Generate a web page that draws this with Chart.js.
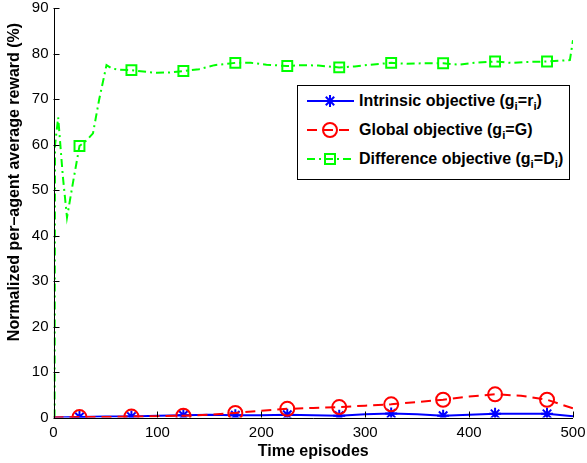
<!DOCTYPE html>
<html><head><meta charset="utf-8">
<script src="https://cdn.jsdelivr.net/npm/chart.js@4"></script>
<style>
html,body{margin:0;padding:0;background:#fff;}
#wrap{position:relative;width:587px;height:463px;overflow:hidden;}
#c{position:absolute;left:0;top:0;}
#legend{position:absolute;left:297px;top:85px;width:273px;height:95px;border:1.3px solid #000;background:#fff;box-sizing:border-box;font-family:"Liberation Sans",Arial,sans-serif;font-weight:bold;font-size:16px;color:#000;}
.row{position:absolute;left:0;width:270px;height:20px;line-height:20px;white-space:nowrap;}
.row svg{position:absolute;left:8px;top:0;}
.row span{position:absolute;left:61px;top:0;}
sub{font-size:72%;vertical-align:-0.38em;line-height:0;}
</style></head>
<body>
<div id="wrap">
<canvas id="c" width="587" height="463"></canvas>
<div id="legend">
 <div class="row" style="top:5px"><svg width="52" height="20"><line x1="1" y1="10" x2="48" y2="10" stroke="#0000ff" stroke-width="2"/><g stroke="#0000ff" stroke-width="2"><line x1="24" y1="4" x2="24" y2="16"/><line x1="18" y1="10" x2="30" y2="10"/><line x1="19.8" y1="5.8" x2="28.2" y2="14.2"/><line x1="19.8" y1="14.2" x2="28.2" y2="5.8"/></g></svg><span>Intrinsic objective (g<sub>i</sub>=r<sub>i</sub>)</span></div>
 <div class="row" style="top:34px"><svg width="52" height="20"><line x1="1" y1="10" x2="48" y2="10" stroke="#ff0000" stroke-width="2" stroke-dasharray="10,6"/><circle cx="24" cy="10" r="7" fill="none" stroke="#ff0000" stroke-width="2"/></svg><span>Global objective (g<sub>i</sub>=G)</span></div>
 <div class="row" style="top:63px"><svg width="52" height="20"><line x1="1" y1="10" x2="48" y2="10" stroke="#00ff00" stroke-width="2" stroke-dasharray="8,4,2,4"/><rect x="19" y="5" width="10" height="10" fill="none" stroke="#00ff00" stroke-width="2"/></svg><span>Difference objective (g<sub>i</sub>=D<sub>i</sub>)</span></div>
</div>
</div>
<script>
// ---- data ----
const xTicks = [0, 100, 200, 300, 400, 500];
const yTicks = [0, 10, 20, 30, 40, 50, 60, 70, 80, 90];
const markerEpisodes = [25, 75, 125, 175, 225, 275, 325, 375, 425, 475];

const episodes = [0, 25, 50, 75, 100, 125, 150, 175, 200, 225, 250, 275, 300, 325, 350, 375, 400, 425, 450, 475, 500];
const intrinsicReward = [0, 0.1, 0.2, 0.2, 0.4, 0.5, 0.6, 0.5, 0.5, 0.6, 0.5, 0.4, 0.7, 0.9, 0.7, 0.4, 0.6, 0.8, 0.8, 0.8, 0.3];
const globalReward = [0, 0.1, 0.1, 0.2, 0.3, 0.4, 0.6, 1.0, 1.5, 1.9, 2.1, 2.3, 2.6, 2.9, 3.4, 3.9, 4.6, 5.1, 4.8, 3.9, 2.0];

const diffEpisodes = [1, 1.5, 4.5, 9, 13, 19, 25, 32, 38, 44, 51, 56, 62, 75, 90, 100, 112, 125, 140, 155, 175, 190, 205, 225, 240, 255, 275, 290, 305, 325, 340, 355, 375, 390, 405, 425, 440, 455, 475, 490, 497, 500];
const differenceReward = [0, 60, 66, 53, 44, 52, 59.7, 61, 62.5, 70, 77.5, 76.8, 76.5, 76.4, 76, 75.8, 75.9, 76.2, 76.6, 77.5, 78.0, 78, 77.6, 77.3, 77.5, 77.4, 77.0, 77.2, 77.6, 78.0, 77.8, 77.9, 77.9, 77.6, 78, 78.3, 78, 78.2, 78.3, 78.5, 78.6, 83];

const toXY = (xs, ys) => xs.map((x, i) => ({x, y: ys[i]}));
const markerRadius = r => ctx => (ctx.raw && markerEpisodes.includes(ctx.raw.x)) ? r : 0;

const FONT = '"Liberation Sans", Arial, Helvetica, sans-serif';

const decorations = {
  id: 'decorations',
  afterDatasetsDraw(chart) {
    const {ctx, chartArea: a, scales: {x, y}} = chart;
    ctx.save();
    ctx.strokeStyle = '#000';
    ctx.lineWidth = 1;
    ctx.beginPath();
    // axis lines
    ctx.moveTo(Math.round(a.left) + 0.5, a.top);
    ctx.lineTo(Math.round(a.left) + 0.5, Math.round(a.bottom) + 0.5);
    ctx.lineTo(a.right, Math.round(a.bottom) + 0.5);
    // inward ticks
    x.ticks.forEach(t => {
      const px = Math.round(x.getPixelForValue(t.value)) + 0.5;
      ctx.moveTo(px, a.bottom); ctx.lineTo(px, a.bottom - 6);
    });
    y.ticks.forEach(t => {
      const py = Math.round(y.getPixelForValue(t.value)) + 0.5;
      ctx.moveTo(a.left, py); ctx.lineTo(a.left + 6, py);
    });
    ctx.stroke();
    // titles
    ctx.fillStyle = '#000';
    ctx.font = 'bold 16px ' + FONT;
    ctx.textAlign = 'center';
    ctx.textBaseline = 'middle';
    ctx.fillText('Time episodes', (a.left + a.right) / 2, 452);
    ctx.translate(15, 182);
    ctx.rotate(-Math.PI / 2);
    ctx.fillText('Normalized per\u2013agent average reward (%)', 0, 0);
    ctx.restore();
  }
};

new Chart(document.getElementById('c'), {
  type: 'line',
  data: {
    datasets: [
      {
        label: 'Intrinsic objective (gi=ri)',
        data: toXY(episodes, intrinsicReward),
        borderColor: '#0000ff', backgroundColor: 'transparent',
        borderWidth: 2, tension: 0,
        pointStyle: 'star', pointRadius: markerRadius(6), pointBorderWidth: 2,
        pointBorderColor: '#0000ff', pointBackgroundColor: 'transparent',
        order: 2
      },
      {
        label: 'Global objective (gi=G)',
        data: toXY(episodes, globalReward),
        borderColor: '#ff0000', backgroundColor: 'transparent',
        borderWidth: 2, borderDash: [10, 6], tension: 0,
        pointStyle: 'circle', pointRadius: markerRadius(7), pointBorderWidth: 2,
        pointBorderColor: '#ff0000', pointBackgroundColor: 'transparent',
        order: 1
      },
      {
        label: 'Difference objective (gi=Di)',
        data: toXY(diffEpisodes, differenceReward),
        borderColor: '#00ff00', backgroundColor: 'transparent',
        borderWidth: 2, borderDash: [8, 4, 2, 4], tension: 0,
        pointStyle: 'rect', pointRadius: markerRadius(7), pointBorderWidth: 2,
        pointBorderColor: '#00ff00', pointBackgroundColor: 'transparent',
        order: 3
      }
    ]
  },
  options: {
    responsive: false,
    animation: false,
    layout: {padding: {top: 8.3, right: 14, left: 0, bottom: 0}},
    plugins: {legend: {display: false}, tooltip: {enabled: false}},
    elements: {point: {hoverRadius: 0}},
    scales: {
      x: {
        type: 'linear', min: 0, max: 500,
        afterBuildTicks: s => { s.ticks = xTicks.map(v => ({value: v})); },
        afterFit: s => { s.height = 45.5; s.paddingLeft = 0; s.paddingRight = 0; },
        grid: {display: false, drawTicks: false},
        border: {display: false},
        ticks: {color: '#000', font: {family: FONT, size: 15}, padding: 6, maxRotation: 0}
      },
      y: {
        type: 'linear', min: 0, max: 90,
        afterBuildTicks: s => { s.ticks = yTicks.map(v => ({value: v})); },
        afterFit: s => { s.width = 53.5; s.paddingTop = 0; s.paddingBottom = 0; },
        grid: {display: false, drawTicks: false},
        border: {display: false},
        ticks: {color: '#000', font: {family: FONT, size: 15}, padding: 5}
      }
    }
  },
  plugins: [decorations]
});
</script>
</body></html>
